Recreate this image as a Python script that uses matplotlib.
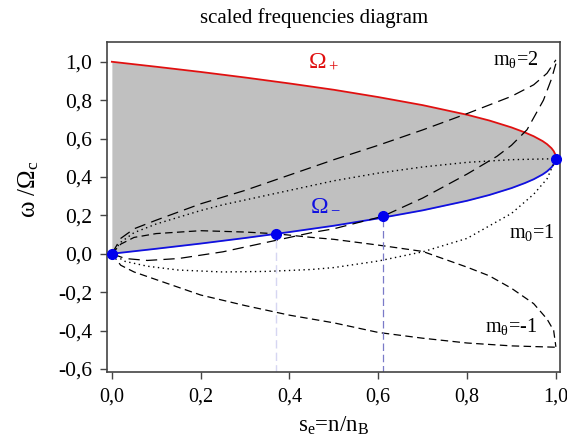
import matplotlib
matplotlib.use("Agg")
import matplotlib.pyplot as plt
import numpy as np

plt.rcParams['font.family'] = ['Liberation Serif', 'DejaVu Serif']
plt.rcParams['mathtext.fontset'] = 'custom'
plt.rcParams['mathtext.rm'] = 'Liberation Serif'
plt.rcParams['mathtext.it'] = 'Liberation Serif:italic'

# Omega+ / Omega- boundaries
s_bound = [0.0, 0.05, 0.1, 0.2, 0.3, 0.4, 0.5, 0.6, 0.7, 0.8, 0.85, 0.9, 0.93, 0.95, 0.97, 0.98, 0.99, 0.995, 0.999, 1.0]
omega_plus = [1.0, 0.987, 0.974, 0.947, 0.918, 0.887, 0.854, 0.816, 0.774, 0.724, 0.694, 0.658, 0.632, 0.612, 0.587, 0.571, 0.55, 0.535, 0.516, 0.495]
omega_minus = [0.0, 0.013, 0.026, 0.053, 0.082, 0.113, 0.146, 0.184, 0.226, 0.276, 0.306, 0.342, 0.368, 0.388, 0.413, 0.429, 0.45, 0.465, 0.484, 0.495]

# m0 = 2 branches (long dashes)
s_m2_up = [0.0, 0.02, 0.05, 0.1, 0.2, 0.3, 0.4, 0.5, 0.6, 0.7, 0.8, 0.9, 0.95, 0.98, 1.0]
m2_up = [0.0, 0.08, 0.13, 0.175, 0.26, 0.33, 0.41, 0.49, 0.565, 0.645, 0.73, 0.82, 0.88, 0.94, 1.01]
s_m2_lo = [0.0, 0.03, 0.08, 0.15, 0.25, 0.35, 0.45, 0.5, 0.61, 0.7, 0.8, 0.867, 0.9, 0.935, 0.972, 0.99, 1.0]
m2_lo = [0.0, -0.025, -0.035, -0.025, 0.01, 0.06, 0.11, 0.13, 0.195, 0.29, 0.415, 0.507, 0.565, 0.646, 0.8, 0.91, 0.99]

# m0 = 1 branches (dotted)
s_m1_up = [0.0, 0.02, 0.05, 0.1, 0.15, 0.2, 0.25, 0.3, 0.4, 0.5, 0.6, 0.7, 0.8, 0.9, 1.0]
m1_up = [0.0, 0.06, 0.11, 0.155, 0.19, 0.225, 0.255, 0.28, 0.33, 0.38, 0.42, 0.452, 0.476, 0.49, 0.495]
s_m1_lo = [0.0, 0.03, 0.08, 0.15, 0.25, 0.35, 0.45, 0.5, 0.6, 0.7, 0.8, 0.9, 0.95, 0.98, 1.0]
m1_lo = [0.0, -0.04, -0.065, -0.085, -0.095, -0.092, -0.082, -0.072, -0.038, 0.01, 0.08, 0.21, 0.31, 0.39, 0.495]

# m0 = -1 branches (dashed loop)
s_mm1_up = [0.0, 0.02, 0.05, 0.1, 0.2, 0.3, 0.37, 0.45, 0.5, 0.6, 0.7, 0.8, 0.85, 0.9, 0.95, 0.98, 0.995, 1.0]
mm1_up = [0.0, 0.05, 0.085, 0.105, 0.12, 0.113, 0.104, 0.085, 0.075, 0.045, 0.012, -0.07, -0.115, -0.18, -0.26, -0.34, -0.4, -0.485]
s_mm1_lo = [0.0, 0.02, 0.05, 0.1, 0.2, 0.3, 0.4, 0.5, 0.6, 0.7, 0.8, 0.9, 1.0]
mm1_lo = [0.0, -0.06, -0.095, -0.135, -0.215, -0.27, -0.32, -0.36, -0.41, -0.44, -0.465, -0.48, -0.487]

# marked points
pts_s = [0.0, 0.37, 0.61, 1.0]
pts_w = [0.0, 0.104, 0.195, 0.495]

tick_x = [0.0, 0.2, 0.4, 0.6, 0.8, 1.0]
tick_y = [-0.6, -0.4, -0.2, 0.0, 0.2, 0.4, 0.6, 0.8, 1.0]

fig = plt.figure(figsize=(5.67, 4.40), dpi=100)
ax = fig.add_axes([0.189, 0.155, 0.799, 0.75])

ax.fill_between(s_bound, omega_minus, omega_plus, color='#c0c0c0', lw=0)
ax.plot(s_bound, omega_plus, color='#e01010', lw=1.3)
ax.plot(s_bound, omega_minus, color='#1010e0', lw=1.3)

ax.plot(s_m2_up, m2_up, color='black', lw=0.9, dashes=(9, 5))
ax.plot(s_m2_lo, m2_lo, color='black', lw=0.9, dashes=(9, 5))
ax.plot(s_m1_up, m1_up, color='black', lw=1.0, dashes=(1, 2.5))
ax.plot(s_m1_lo, m1_lo, color='black', lw=1.0, dashes=(1, 2.5))
ax.plot(s_mm1_up, mm1_up, color='black', lw=0.9, dashes=(6, 3.5))
ax.plot(s_mm1_lo, mm1_lo, color='black', lw=0.9, dashes=(6, 3.5))

ax.plot([pts_s[1], pts_s[1]], [-0.62, pts_w[1]], color='#d6d6f2', lw=1.0, dashes=(6, 3))
ax.plot([pts_s[2], pts_s[2]], [-0.62, pts_w[2]], color='#7a7ac8', lw=0.9, dashes=(6, 3))
ax.plot(pts_s, pts_w, 'o', color='#0000ee', ms=7, clip_on=False, zorder=5)

ax.text(0.476, 1.0, r'$\mathregular{Ω_+}$', color='#e01010', fontsize=17, ha='center', va='center')
ax.text(0.48, 0.255, r'$\mathregular{Ω_-}$', color='#1010e0', fontsize=17, ha='center', va='center')
ax.text(0.91, 1.01, r'$\mathregular{m_θ}$=2', fontsize=14.5, ha='center', va='center')
ax.text(0.945, 0.11, r'$\mathregular{m_0}$=1', fontsize=14.5, ha='center', va='center')
ax.text(0.9, -0.38, r'$\mathregular{m_θ}$=-1', fontsize=14.5, ha='center', va='center')

ax.set_xlim(-0.0106, 1.0097)
ax.set_ylim(-0.615, 1.104)
ax.set_xticks(tick_x)
ax.set_yticks(tick_y)
ax.set_xticklabels([f"{v:.1f}".replace('.', ',') for v in tick_x], fontsize=14.5)
ax.set_yticklabels([f"{v:.1f}".replace('.', ',') for v in tick_y], fontsize=15.5)
ax.tick_params(direction='out', length=5, width=1, color='#444444', pad=6)
for sp in ax.spines.values():
    sp.set_color('#444444')
    sp.set_linewidth(1.2)

ax.set_xlabel(r'$\mathregular{s_e}$=n/$\mathregular{n_B}$', fontsize=16.5, labelpad=6)
fig.text(0.05, 0.57, r'ω /$\mathregular{Ω_c}$', fontsize=18, rotation=90, ha='center', va='center')
fig.text(0.554, 0.958, 'scaled frequencies diagram', fontsize=15, ha='center', va='center')

fig.savefig('out.png', dpi=100)
